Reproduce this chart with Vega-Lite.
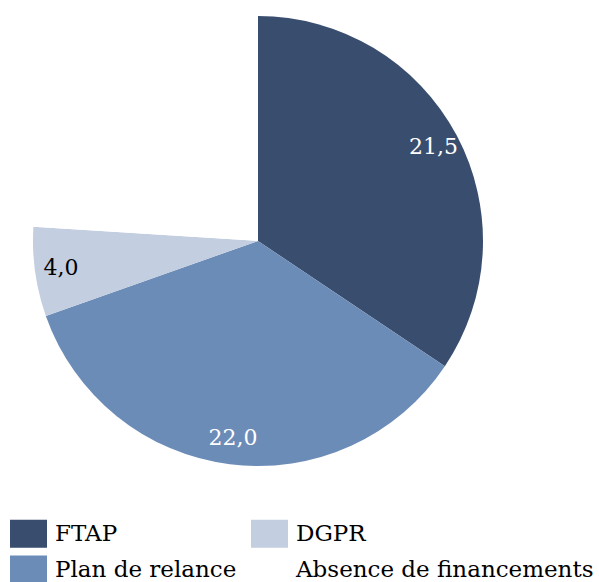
{
  "$schema": "https://vega.github.io/schema/vega-lite/v6.json",
  "autosize": {"type": "none"},
  "padding": {"left": 0, "top": 0, "right": 83, "bottom": 100},
  "width": 516,
  "height": 482,
  "background": "white",
  "config": {"view": {"stroke": null}},
  "data": {
    "values": [
      {"categorie": "FTAP", "valeur": 21.5, "ordre": 1, "etiquette": "21,5"},
      {"categorie": "Plan de relance", "valeur": 22.0, "ordre": 2, "etiquette": "22,0"},
      {"categorie": "DGPR", "valeur": 4.0, "ordre": 3, "etiquette": "4,0"},
      {"categorie": "Absence de financements", "valeur": 15.0, "ordre": 4, "etiquette": ""}
    ]
  },
  "encoding": {
    "theta": {"field": "valeur", "type": "quantitative", "stack": true},
    "order": {"field": "ordre", "type": "quantitative"}
  },
  "layer": [
    {
      "mark": {"type": "arc", "outerRadius": 225},
      "encoding": {
        "color": {
          "field": "categorie",
          "type": "nominal",
          "scale": {
            "domain": ["FTAP", "DGPR", "Plan de relance", "Absence de financements"],
            "range": ["#394d6e", "#c3cee0", "#6c8cb8", "#ffffff"]
          },
          "legend": {
            "title": null,
            "orient": "none",
            "legendX": 10,
            "legendY": 515,
            "columns": 2,
            "direction": "horizontal",
            "symbolType": "M-1,-0.76H1V0.76H-1Z",
            "symbolSize": 1369,
            "symbolStrokeWidth": 0,
            "labelFont": "DejaVu Serif",
            "labelFontSize": 23,
            "labelColor": "#000000",
            "labelOffset": 8,
            "labelLimit": 400,
            "rowPadding": 3,
            "columnPadding": 14
          }
        }
      }
    },
    {
      "mark": {"type": "text", "radius": 199, "font": "DejaVu Serif", "fontSize": 22},
      "encoding": {
        "text": {"field": "etiquette", "type": "nominal"},
        "color": {
          "condition": {"test": "datum.categorie === 'DGPR'", "value": "#000000"},
          "value": "#ffffff"
        }
      }
    }
  ]
}
